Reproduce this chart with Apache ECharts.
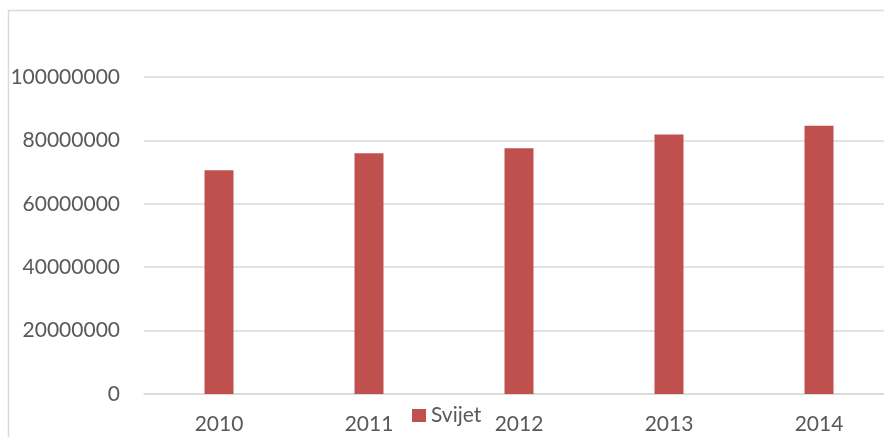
<!DOCTYPE html>
<html>
<head>
<meta charset="utf-8">
<script src="https://cdn.jsdelivr.net/npm/echarts@6/dist/echarts.min.js"></script>
<style>
html,body{margin:0;padding:0;background:#fff;overflow:hidden;width:884px;height:437px;}
#c{width:894px;height:437px;}
</style>
</head>
<body>
<div id="c"></div>
<script>
const categories = ['2010', '2011', '2012', '2013', '2014'];
const svijetValues = [70600000, 75950000, 77500000, 81900000, 84600000];
const yTicks = { min: 0, max: 100000000, interval: 20000000 };

const chart = echarts.init(document.getElementById('c'), null, { renderer: 'canvas' });
const textColor = '#595959';
const font = 'Lato, "Open Sans", sans-serif';
chart.setOption({
  animation: false,
  backgroundColor: '#ffffff',
  graphic: [{
    type: 'rect',
    shape: { x: 8.5, y: 10.5, width: 1000, height: 1000 },
    style: { fill: 'none', stroke: '#d9d9d9', lineWidth: 1.5 },
    silent: true,
    z: -1
  }],
  grid: { left: 144, top: 77, right: 0, bottom: 43, containLabel: false },
  legend: {
    data: ['Svijet'],
    left: 412,
    top: 405,
    itemWidth: 14,
    itemHeight: 13,
    itemGap: 5,
    icon: 'rect',
    padding: 0,
    textStyle: { color: textColor, fontSize: 21, fontFamily: font }
  },
  xAxis: {
    type: 'category',
    data: categories,
    axisLine: { show: true, lineStyle: { color: '#d9d9d9', width: 1.5 } },
    axisTick: { show: false },
    axisLabel: { color: textColor, fontSize: 21, fontFamily: font, margin: 20 }
  },
  yAxis: {
    type: 'value',
    min: yTicks.min,
    max: yTicks.max,
    interval: yTicks.interval,
    axisLine: { show: false },
    axisTick: { show: false },
    splitLine: { lineStyle: { color: '#d9d9d9', width: 1.5 } },
    axisLabel: { color: textColor, fontSize: 21, fontFamily: font, margin: 24, formatter: function (v) { return String(v); } }
  },
  series: [{
    name: 'Svijet',
    type: 'bar',
    data: svijetValues,
    barWidth: 29,
    itemStyle: { color: '#c0504d' }
  }]
});
</script>
</body>
</html>
